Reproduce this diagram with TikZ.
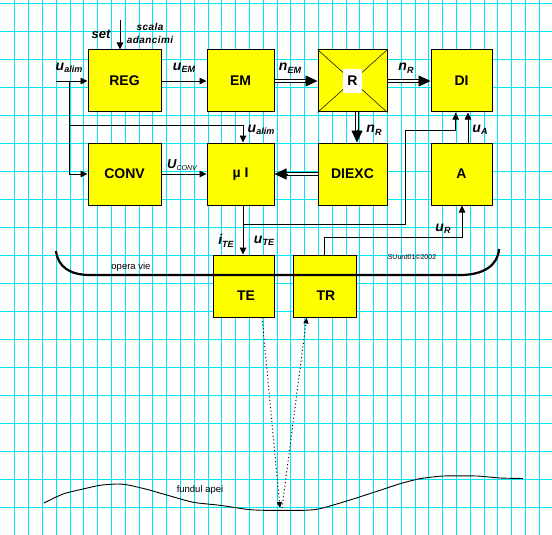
\documentclass[tikz,border=0pt]{standalone}
\usepackage{fontspec}
\setmainfont{Liberation Sans}
\usetikzlibrary{arrows.meta}
\definecolor{gridc}{RGB}{0,232,245}
\definecolor{boxy}{RGB}{255,255,0}
\newcommand{\vlab}[2]{{\fontsize{14}{14}\selectfont\bfseries\itshape #1}\raisebox{-2.5pt}{\fontsize{9}{9}\selectfont\bfseries\itshape #2}}
\newcommand{\vlabsm}[2]{{\fontsize{13}{13}\selectfont\bfseries\itshape #1}\raisebox{-2.5pt}{\fontsize{7}{7}\selectfont\itshape #2}}
\newcommand{\kk}{\kern0.45pt}
\tikzset{
  gridln/.style={draw=gridc, line width=1.2pt},
  blk/.style={draw=black, line width=1pt, fill=boxy, minimum height=62pt, inner sep=0pt,
              font=\fontsize{14}{14}\selectfont\bfseries},
  btxt/.style={inner sep=0pt, font=\fontsize{14}{14}\selectfont\bfseries},
  sar/.style={line width=0.8pt, -{Triangle[length=7pt,width=6.5pt]}},
  dbl/.style={double, double distance=1.8pt, line width=0.7pt},
  bigar/.style={line width=0.7pt, -{Triangle[length=12pt,width=11pt]}},
  dotln/.style={line width=1pt, dash pattern=on 1pt off 2.6pt},
  vl/.style={inner sep=0pt},
  small/.style={inner sep=0pt, font=\fontsize{9.5}{10}\selectfont},
}
\begin{document}
\begin{tikzpicture}[x=1pt,y=-1pt]
\useasboundingbox (0,0) rectangle (552,535);
\fill[white] (0,0) rectangle (552,535);
% grid
\foreach \k in {0,...,38} \draw[gridln] ({round(14.3+13.8*\k)+0.5},0) -- ({round(14.3+13.8*\k)+0.5},535);
\foreach \k in {0,...,18} \draw[gridln] (0,{round(3.3+28*\k)+0.5}) -- (552,{round(3.3+28*\k)+0.5});

% blocks
\node[blk, minimum width=73pt] (reg) at (124.5,81) {REG};
\node[blk, minimum width=67pt] (em) at (240.5,81) {EM};
\node[blk, minimum width=69pt] (r) at (352.5,81) {};
\node[blk, minimum width=61pt] (di) at (461.5,81) {DI};
\node[blk, minimum width=73pt] (conv) at (124.5,174) {CONV};
\node[blk, minimum width=67pt] (mu) at (240.5,174) {µ I};
\node[blk, minimum width=69pt] (diexc) at (352.5,174) {DIEXC};
\node[blk, minimum width=61pt] (a) at (461.5,174) {A};
\node[blk, minimum width=61pt] (te) at (243.5,286) {};
\node[blk, minimum width=63pt] (tr) at (324.5,286) {};
\node[btxt] (tet) at (246,296) {TE};
\node[btxt] (trt) at (326,296) {TR};

% R box diagonals and centre
\draw[line width=0.5pt] (r.north west) -- (r.south east);
\draw[line width=0.5pt] (r.north east) -- (r.south west);
\node[fill=white, minimum width=19pt, minimum height=24pt, inner sep=0pt, font=\fontsize{14}{14}\selectfont\bfseries] (rt) at (r.center) {R};

% operatie bracket line
\draw[line width=2.2pt] (56,251) .. controls (58,267) and (70,275) .. (90,275) -- (460,275)
   .. controls (484,275) and (498,265) .. (499,249);

% inputs
\coordinate (setin) at (120,20);
\draw[sar] (setin) -- (setin |- reg.north);
\coordinate (uin) at (56,81);
\draw[sar] (uin) -- (reg.west);
\coordinate (j1) at (69,81);
\coordinate (j2) at (69,125);
\draw[line width=0.8pt] (j1) -- (j2);
\draw[sar] (j2) |- (conv.west);
\draw[sar] (j2) -| ([xshift=2.5pt]mu.north);

% single arrows
\draw[sar] (reg.east) -- (em.west);
\draw[sar] (conv.east) -- (mu.west);
\draw[sar] ([xshift=6.5pt]a.north) -- ([xshift=6.5pt]a.north |- di.south);
\draw[sar] ([xshift=2.5pt]mu.south) -- ([xshift=2.5pt]mu.south |- te.north);
\coordinate (j3) at (243,224);
\coordinate (k1) at (405.7,130);
\draw[sar] (j3) -| (k1) -| ([xshift=-5.8pt]di.south);
\coordinate (k2) at (462,237);
\draw[sar] (tr.north) |- (k2) -- (k2 |- a.south);

% double arrows
\draw[dbl, shorten >=10pt] (em.east) -- (r.west);
\draw[bigar] ([xshift=-13pt]r.west) -- (r.west);
\draw[dbl, shorten >=10pt] (r.east) -- (di.west);
\draw[bigar] ([xshift=-13pt]di.west) -- (di.west);
\draw[dbl, shorten >=10pt] ([xshift=4.5pt]r.south) -- ([xshift=4.5pt]diexc.north);
\draw[bigar] ([xshift=4.5pt,yshift=13pt]diexc.north) -- ([xshift=4.5pt]diexc.north);
\draw[dbl, shorten >=10pt] (diexc.west) -- (mu.east);
\draw[bigar] ([xshift=13pt]mu.east) -- (mu.east);

% labels
\node[inner sep=0pt, font=\fontsize{13}{13}\selectfont\bfseries\itshape] (lset) at (101,34) {set};
\node[inner sep=0pt, font=\fontsize{10}{11}\selectfont\bfseries\itshape] (lsc) at (150,27) {s\kk c\kk a\kk l\kk a};
\node[inner sep=0pt, font=\fontsize{10}{11}\selectfont\bfseries\itshape] (ladc) at (150,40) {a\kk d\kk a\kk n\kk c\kk i\kk m\kk i};
\node[vl] (l1) at (69,68) {\vlab{u}{alim}};
\node[vl] (l2) at (184,68) {\vlab{u}{EM}};
\node[vl] (l3) at (290,68) {\vlab{n}{EM}};
\node[vl] (l4) at (406,68) {\vlab{n}{R}};
\node[vl] (l5) at (374,130) {\vlab{n}{R}};
\node[vl] (l6) at (480,130) {\vlab{u}{A}};
\node[vl] (l7) at (261,130) {\vlab{u}{alim}};
\node[vl] (l8) at (182,165) {\vlabsm{U}{CONV}};
\node[vl] (l9) at (226,241) {\vlab{i}{TE}};
\node[vl] (l10) at (264,241) {\vlab{u}{TE}};
\node[vl] (l11) at (443,229) {\vlab{u}{R}};
\node[small] (lop) at (131,267) {opera vie};
\node[inner sep=0pt, font=\fontsize{7}{7}\selectfont] (lcp) at (412,257) {SUurd01©2002};
\node[small] (lfa) at (200,490) {fundul apei};

% seabed
\draw[line width=0.9pt] plot[smooth, tension=0.4] coordinates {(44,503) (63,494) (83,489) (100,485.3) (116.7,484) (126.7,484.7) (146.7,489.3) (166.7,495) (193.3,502.3) (220,505.3) (246.7,509.3) (263.3,510.3) (303.3,510.3) (320,508.7) (350,500) (380,490.3) (400,483.7) (420,478.7) (443.3,476) (476.7,476) (500,478) (523,478.5)};

% sonar beams
\coordinate (sb) at (280,508);
\coordinate (sb2) at (282,508);
\draw[dotln, -{Triangle[length=6pt,width=5pt]}] ([xshift=18.5pt]te.south) -- (sb);
\draw[dotln, -{Triangle[length=6pt,width=5pt]}] (sb2) -- ([xshift=-17.8pt]tr.south);
\end{tikzpicture}
\end{document}
